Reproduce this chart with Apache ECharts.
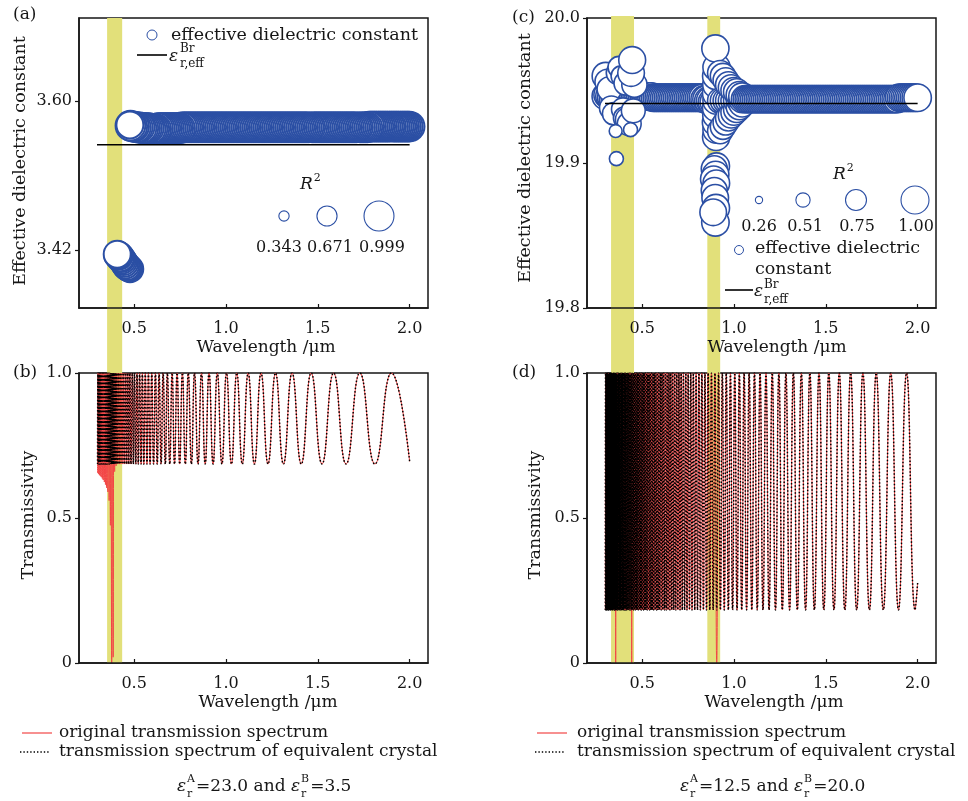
<!DOCTYPE html>
<html><head><meta charset="utf-8">
<script src="https://cdn.jsdelivr.net/npm/echarts@6/dist/echarts.min.js"></script>
<style>html,body{margin:0;padding:0;background:#fff}#c{width:968px;height:801px}</style>
</head><body><div id="c"></div><script>
// ---------- tick labels ----------
const xTicks = [0.5, 1.0, 1.5, 2.0];
const yTicksA = [3.42, 3.60];
const yTicksC = [19.8, 19.9, 20.0];
const yTicksT = [0, 0.5, 1.0];

// ---------- highlighted wavelength bands ----------
const bandsLeft = [[0.353, 0.435]];
const bandsRight = [[0.331, 0.456], [0.855, 0.925]];

// ---------- panel (a): effective dielectric constant ----------
const aBandLam = [0.48,0.49,0.50,0.51,0.52,0.53,0.54,0.55,0.56,0.57,
0.58,0.59,0.60,0.61,0.62,0.63,0.64,0.65,0.66,0.67,
0.68,0.69,0.70,0.71,0.72,0.73,0.74,0.75,0.76,0.77,
0.78,0.79,0.80,0.81,0.82,0.83,0.84,0.85,0.86,0.87,
0.88,0.89,0.90,0.91,0.92,0.93,0.94,0.95,0.96,0.97,
0.98,0.99,1.00,1.01,1.02,1.03,1.04,1.05,1.06,1.07,
1.08,1.09,1.10,1.11,1.12,1.13,1.14,1.15,1.16,1.17,
1.18,1.19,1.20,1.21,1.22,1.23,1.24,1.25,1.26,1.27,
1.28,1.29,1.30,1.31,1.32,1.33,1.34,1.35,1.36,1.37,
1.38,1.39,1.40,1.41,1.42,1.43,1.44,1.45,1.46,1.47,
1.48,1.49,1.50,1.51,1.52,1.53,1.54,1.55,1.56,1.57,
1.58,1.59,1.60,1.61,1.62,1.63,1.64,1.65,1.66,1.67,
1.68,1.69,1.70,1.71,1.72,1.73,1.74,1.75,1.76,1.77,
1.78,1.79,1.80,1.81,1.82,1.83,1.84,1.85,1.86,1.87,
1.88,1.89,1.90,1.91,1.92,1.93,1.94,1.95,1.96,1.97,
1.98,1.99,2.00];
const aBandEps = [3.570,3.569,3.569,3.568,3.568,3.568,3.567,3.567,3.567,3.567,
3.567,3.566,3.566,3.566,3.566,3.567,3.567,3.567,3.567,3.567,
3.567,3.567,3.567,3.567,3.567,3.567,3.567,3.567,3.568,3.568,
3.568,3.568,3.568,3.568,3.568,3.568,3.568,3.568,3.568,3.568,
3.568,3.568,3.568,3.568,3.568,3.568,3.568,3.568,3.568,3.568,
3.568,3.568,3.568,3.568,3.568,3.568,3.568,3.568,3.568,3.568,
3.568,3.568,3.568,3.568,3.568,3.568,3.568,3.568,3.568,3.568,
3.568,3.568,3.568,3.568,3.568,3.568,3.568,3.568,3.568,3.568,
3.568,3.568,3.568,3.568,3.568,3.568,3.568,3.568,3.568,3.568,
3.568,3.568,3.568,3.568,3.568,3.568,3.568,3.568,3.568,3.568,
3.568,3.568,3.568,3.568,3.568,3.568,3.568,3.568,3.568,3.568,
3.568,3.568,3.568,3.568,3.568,3.568,3.568,3.568,3.568,3.568,
3.568,3.568,3.568,3.568,3.568,3.568,3.568,3.568,3.568,3.568,
3.569,3.569,3.569,3.569,3.569,3.569,3.569,3.569,3.569,3.569,
3.569,3.569,3.569,3.569,3.569,3.569,3.569,3.569,3.569,3.569,
3.569,3.569,3.569];
const aBandR2 = [0.99,0.99,0.99,0.99,0.99,0.99,0.99,0.99,0.99,0.99,
0.99,0.99,0.99,0.99,0.99,0.99,0.99,0.99,0.99,0.99,
0.99,0.99,0.99,0.99,0.99,0.99,0.99,0.99,0.99,0.99,
0.99,0.99,0.99,0.99,0.99,0.99,0.99,0.99,0.99,0.99,
0.99,0.99,0.99,0.99,0.99,0.99,0.99,0.99,0.99,0.99,
0.99,0.99,0.99,0.99,0.99,0.99,0.99,0.99,0.99,0.99,
0.99,0.99,0.99,0.99,0.99,0.99,0.99,0.99,0.99,0.99,
0.99,0.99,0.99,0.99,0.99,0.99,0.99,0.99,0.99,0.99,
0.99,0.99,0.99,0.99,0.99,0.99,0.99,0.99,0.99,0.99,
0.99,0.99,0.99,0.99,0.99,0.99,0.99,0.99,0.98,0.99,
0.99,0.99,0.99,0.99,0.99,0.99,0.99,0.99,0.99,0.99,
0.99,0.99,0.99,0.99,0.99,0.99,0.99,0.99,0.99,0.99,
0.99,0.99,0.99,0.99,0.98,0.99,0.99,0.99,0.99,0.99,
0.99,0.99,0.99,0.99,0.99,0.99,0.99,0.99,0.99,0.99,
0.99,0.99,0.98,0.99,0.99,0.99,0.99,0.99,0.99,0.99,
0.99,0.99,0.99];
const aFirst = [0.477, 3.571, 0.90];
const aLowLam = [0.408,0.412,0.418,0.424,0.430,0.436,0.442,0.448,0.454,0.460,0.466,0.472,0.478];
const aLowEps = [3.415,3.414,3.413,3.411,3.410,3.408,3.406,3.404,3.402,3.400,3.399,3.398,3.397];
const aLowR2  = [0.90,0.92,0.92,0.92,0.91,0.90,0.90,0.90,0.90,0.90,0.89,0.88,0.88];
const effLineA = [[0.298, 3.547], [2.0, 3.547]];
const legendR2A = [0.343, 0.671, 0.999];

// ---------- panel (c) ----------
const cBand1Lam = [0.30,0.31,0.32,0.33,0.34,0.35,0.36,0.37,0.38,0.39,
0.40,0.41,0.42,0.43,0.44,0.45,0.46,0.47,0.48,0.49,
0.50,0.51,0.52,0.53,0.54,0.55,0.56,0.57,0.58,0.59,
0.60,0.61,0.62,0.63,0.64,0.65,0.66,0.67,0.68,0.69,
0.70,0.71,0.72,0.73,0.74,0.75,0.76,0.77,0.78,0.79,
0.80,0.81,0.82,0.83,0.84,0.85,0.86,0.87,0.88,0.89];
const cBand1Eps = [19.946,19.947,19.946,19.945,19.944,19.944,19.943,19.944,19.945,19.944,
19.944,19.945,19.944,19.943,19.944,19.946,19.945,19.946,19.946,19.946,
19.946,19.946,19.946,19.946,19.946,19.946,19.945,19.945,19.945,19.945,
19.945,19.945,19.945,19.945,19.945,19.945,19.945,19.945,19.945,19.945,
19.945,19.945,19.945,19.945,19.945,19.945,19.945,19.945,19.945,19.945,
19.945,19.945,19.945,19.945,19.944,19.944,19.943,19.943,19.942,19.942];
const cBand1R2 = [0.95,0.95,0.95,0.95,0.95,0.95,0.95,0.95,0.95,0.95,
0.95,0.95,0.95,0.95,0.95,0.96,0.97,0.97,0.97,0.97,
0.97,0.97,0.97,0.97,0.97,0.97,0.97,0.97,0.97,0.97,
0.97,0.97,0.97,0.97,0.97,0.97,0.97,0.97,0.97,0.97,
0.97,0.97,0.97,0.97,0.97,0.97,0.97,0.97,0.97,0.97,
0.97,0.97,0.97,0.97,0.97,0.97,0.97,0.97,0.97,0.97];
const cLeftOut = [[0.302,19.960,0.97],[0.312,19.956,0.90],[0.322,19.951,0.88],[0.333,19.938,0.85],[0.345,19.934,0.80],
[0.366,19.962,0.80],[0.374,19.966,0.78],[0.386,19.960,0.72],[0.396,19.937,0.82],[0.405,19.931,0.80],
[0.412,19.955,0.85],[0.422,19.930,0.88],[0.430,19.927,0.85],[0.452,19.936,0.85],[0.458,19.954,0.90],
[0.440,19.962,0.95],[0.446,19.971,0.96],[0.356,19.922,0.46],[0.437,19.923,0.50],[0.360,19.903,0.50]];
const cLowStack = [[0.905,19.898,0.93],[0.893,19.896,0.93],[0.900,19.892,0.95],[0.889,19.889,0.93],[0.904,19.886,0.95],
[0.893,19.881,0.93],[0.898,19.876,0.95],[0.902,19.869,0.97],[0.899,19.859,0.98],[0.887,19.866,0.95]];
const cUpStack = [[0.903,19.918,0.97],[0.905,19.923,0.97],[0.902,19.928,0.97],[0.904,19.933,0.97],[0.903,19.938,0.97],
[0.905,19.943,0.97],[0.903,19.948,0.97],[0.904,19.954,0.97],[0.903,19.960,0.97],[0.905,19.966,0.97],[0.899,19.979,0.97]];
const cSpread = [[0.925,19.922,0.90],[0.925,19.943,0.90],[0.925,19.962,0.90],[0.940,19.925,0.90],[0.940,19.943,0.90],[0.940,19.960,0.90],
[0.955,19.928,0.90],[0.955,19.943,0.90],[0.955,19.957,0.90],[0.970,19.931,0.92],[0.970,19.943,0.92],[0.970,19.954,0.92],
[0.985,19.933,0.92],[0.985,19.943,0.92],[0.985,19.952,0.92],[1.000,19.935,0.93],[1.000,19.943,0.93],[1.000,19.950,0.93],
[1.015,19.937,0.94],[1.015,19.943,0.94],[1.015,19.949,0.94],[1.030,19.939,0.95],[1.030,19.944,0.95],[1.030,19.947,0.95],
[1.045,19.941,0.96],[1.045,19.944,0.96],[1.045,19.946,0.96]];
const cBand2Lam = [1.06,1.07,1.08,1.09,1.10,1.11,1.12,1.13,1.14,1.15,
1.16,1.17,1.18,1.19,1.20,1.21,1.22,1.23,1.24,1.25,
1.26,1.27,1.28,1.29,1.30,1.31,1.32,1.33,1.34,1.35,
1.36,1.37,1.38,1.39,1.40,1.41,1.42,1.43,1.44,1.45,
1.46,1.47,1.48,1.49,1.50,1.51,1.52,1.53,1.54,1.55,
1.56,1.57,1.58,1.59,1.60,1.61,1.62,1.63,1.64,1.65,
1.66,1.67,1.68,1.69,1.70,1.71,1.72,1.73,1.74,1.75,
1.76,1.77,1.78,1.79,1.80,1.81,1.82,1.83,1.84,1.85,
1.86,1.87,1.88,1.89,1.90,1.91,1.92,1.93,1.94,1.95,
1.96,1.97,1.98,1.99,2.00];
const cBand2Eps = [19.944,19.944,19.944,19.944,19.944,19.944,19.944,19.944,19.944,19.944,
19.944,19.944,19.944,19.944,19.944,19.944,19.944,19.944,19.944,19.944,
19.944,19.944,19.944,19.944,19.944,19.944,19.944,19.944,19.944,19.944,
19.944,19.944,19.944,19.944,19.944,19.944,19.944,19.944,19.944,19.944,
19.944,19.944,19.944,19.944,19.944,19.944,19.944,19.944,19.944,19.944,
19.944,19.944,19.944,19.944,19.944,19.944,19.944,19.944,19.944,19.944,
19.944,19.944,19.944,19.944,19.944,19.944,19.944,19.944,19.944,19.944,
19.944,19.944,19.944,19.944,19.944,19.944,19.944,19.944,19.944,19.944,
19.944,19.944,19.944,19.944,19.945,19.945,19.945,19.945,19.945,19.945,
19.945,19.945,19.945,19.945,19.945];
const cBand2R2 = [0.97,0.97,0.97,0.97,0.97,0.97,0.97,0.97,0.97,0.97,
0.97,0.97,0.97,0.97,0.97,0.97,0.97,0.97,0.97,0.97,
0.97,0.97,0.97,0.97,0.97,0.97,0.97,0.97,0.97,0.97,
0.97,0.97,0.97,0.97,0.97,0.97,0.97,0.97,0.97,0.97,
0.97,0.97,0.97,0.97,0.97,0.97,0.97,0.97,0.97,0.97,
0.97,0.97,0.97,0.97,0.97,0.97,0.97,0.97,0.97,0.97,
0.97,0.97,0.97,0.97,0.97,0.97,0.97,0.97,0.97,0.97,
0.97,0.97,0.97,0.97,0.97,0.97,0.97,0.97,0.97,0.97,
0.97,0.97,0.97,0.97,0.98,0.98,0.98,0.98,0.98,0.98,
0.98,0.98,0.98,0.98,0.98];
const effLineC = [[0.298, 19.941], [2.0, 19.941]];
const legendR2C = [0.26, 0.51, 0.75, 1.00];

// ---------- panel (b): transmission spectra, extrema wavelengths ----------
const peaksB = [0.303,0.308,0.313,0.318,0.324,0.329,0.335,0.341,0.347,0.354,0.360,0.367,0.374,0.382,0.390,0.398,0.406,0.415,0.424,0.434,0.444,0.455,0.466,0.477,0.490,0.502,0.516,0.530,0.545,0.561,0.578,0.596,0.616,0.636,0.658,0.681,0.707,0.734,0.763,0.795,0.829,0.867,0.908,0.953,1.003,1.059,1.121,1.191,1.270,1.360,1.464,1.586,1.729,1.901];
const troughsB = [0.301,0.306,0.311,0.316,0.321,0.327,0.332,0.338,0.344,0.350,0.357,0.364,0.371,0.378,0.386,0.394,0.402,0.411,0.420,0.429,0.439,0.449,0.460,0.471,0.483,0.496,0.509,0.523,0.538,0.553,0.570,0.587,0.606,0.626,0.647,0.670,0.694,0.720,0.748,0.779,0.812,0.848,0.887,0.930,0.978,1.030,1.089,1.155,1.229,1.313,1.410,1.523,1.654,1.811];
const peakTB = 1.0, troughTB = 0.686;
const endB = [2.0, 0.695];
const redDipsB = [[0.301,0.655],[0.306,0.652],[0.311,0.648],[0.316,0.645],[0.321,0.641],[0.327,0.636],[0.332,0.631],[0.338,0.624],[0.344,0.615],[0.350,0.604],[0.357,0.590],[0.364,0.560],[0.371,0.475],[0.378,0.0],[0.386,0.02],[0.394,0.66],[0.402,0.68]];

// ---------- panel (d) ----------
const peaksD = [0.3009,0.3031,0.3053,0.3075,0.3098,0.3122,0.3145,0.3169,0.3193,0.3218,0.3243,0.3269,0.3294,0.3321,0.3347,0.3374,0.3402,0.3430,0.3458,0.3487,
0.3517,0.3547,0.3577,0.3608,0.3640,0.3672,0.3704,0.3738,0.3771,0.3806,0.3841,0.3877,0.3913,0.3950,0.3988,0.4027,0.4066,0.4106,0.4147,0.4188,
0.4231,0.4274,0.4319,0.4364,0.4410,0.4457,0.4506,0.4555,0.4605,0.4657,0.4709,0.4763,0.4818,0.4875,0.4932,0.4991,0.5052,0.5114,0.5177,0.5242,
0.5309,0.5378,0.5448,0.5520,0.5594,0.5671,0.5749,0.5829,0.5912,0.5997,0.6085,0.6175,0.6268,0.6363,0.6462,0.6564,0.6669,0.6777,0.6889,0.7005,
0.7125,0.7249,0.7377,0.7510,0.7648,0.7791,0.7940,0.8094,0.8254,0.8421,0.8595,0.8776,0.8965,0.9162,0.9368,0.9583,0.9809,1.0045,1.0293,1.0554,
1.0828,1.1117,1.1422,1.1744,1.2085,1.2446,1.2829,1.3236,1.3671,1.4134,1.4631,1.5163,1.5736,1.6353,1.7021,1.7746,1.8536,1.9399];
const troughsD = [0.2998,0.3020,0.3042,0.3064,0.3087,0.3110,0.3133,0.3157,0.3181,0.3206,0.3231,0.3256,0.3281,0.3307,0.3334,0.3361,0.3388,0.3416,0.3444,0.3473,
0.3502,0.3532,0.3562,0.3593,0.3624,0.3656,0.3688,0.3721,0.3754,0.3789,0.3823,0.3859,0.3895,0.3932,0.3969,0.4007,0.4046,0.4086,0.4126,0.4168,
0.4210,0.4253,0.4296,0.4341,0.4387,0.4434,0.4481,0.4530,0.4580,0.4631,0.4683,0.4736,0.4790,0.4846,0.4903,0.4962,0.5021,0.5083,0.5145,0.5210,
0.5276,0.5343,0.5413,0.5484,0.5557,0.5632,0.5709,0.5789,0.5870,0.5954,0.6040,0.6129,0.6221,0.6315,0.6412,0.6513,0.6616,0.6723,0.6833,0.6947,
0.7065,0.7187,0.7313,0.7443,0.7579,0.7719,0.7865,0.8016,0.8173,0.8337,0.8507,0.8684,0.8869,0.9062,0.9264,0.9474,0.9695,0.9926,1.0168,1.0422,
1.0689,1.0971,1.1268,1.1581,1.1912,1.2262,1.2634,1.3029,1.3450,1.3899,1.4378,1.4892,1.5444,1.6038,1.6681,1.7376,1.8132,1.8957,1.9861];
const peakTD = 1.0, troughTD = 0.183;
const endD = [2.0, 0.276];
const redDipsD = [[0.3562,0.0],[0.4434,0.0],[0.9062,0.0]];

// ---------- styles ----------
const FONT = '"DejaVu Serif", "Liberation Serif", serif';
const BLUE = '#2b4fa4';
const RED = '#f24646';
const YEL = '#e2e07a';
const INK = '#161616';
const SIZE_A = 30, SIZE_C = 28;

// ---------- build series data ----------
const dataA = [];
for (let i = aBandLam.length - 1; i >= 0; i--) dataA.push([aBandLam[i], aBandEps[i], aBandR2[i]]);
dataA.push(aFirst);
for (let i = aLowLam.length - 1; i >= 0; i--) dataA.push([aLowLam[i], aLowEps[i], aLowR2[i]]);

const dataC = [];
cBand1Lam.forEach((l, i) => dataC.push([l, cBand1Eps[i], cBand1R2[i]]));
cLeftOut.forEach(p => dataC.push(p));
cLowStack.forEach(p => dataC.push(p));
cUpStack.forEach(p => dataC.push(p));
cSpread.forEach(p => dataC.push(p));
cBand2Lam.forEach((l, i) => dataC.push([l, cBand2Eps[i], cBand2R2[i]]));

function spectrum(peaks, troughs, pT, tT, end, dips) {
  const m = new Map((dips || []).map(d => [d[0], d[1]]));
  const pts = peaks.map(l => [l, pT]).concat(troughs.map(l => [l, m.has(l) ? m.get(l) : tT]));
  pts.push(end);
  pts.sort((a, b) => a[0] - b[0]);
  return pts;
}
const blackB = spectrum(peaksB, troughsB, peakTB, troughTB, endB, null);
const redB = spectrum(peaksB, troughsB, peakTB, troughTB, endB, redDipsB);
const blackD = spectrum(peaksD, troughsD, peakTD, troughTD, endD, null);
const redD = spectrum(peaksD, troughsD, peakTD, troughTD, endD, redDipsD);

// ---------- axes ----------
const axLine = { show: true, lineStyle: { color: INK, width: 1.5 } };
function xAx(gi) {
  return { type: 'value', gridIndex: gi, min: 0.2, max: 2.1, z: 10, axisLine: axLine,
    axisTick: { show: true, inside: true, length: 4, customValues: xTicks, lineStyle: { color: INK, width: 1.2 } },
    axisLabel: { customValues: xTicks, formatter: v => v.toFixed(1), margin: 13, fontFamily: FONT, fontSize: 16, color: INK },
    splitLine: { show: false } };
}
function yAx(gi, min, max, ticks, fmt) {
  return { type: 'value', gridIndex: gi, min: min, max: max, z: 10, axisLine: axLine,
    axisTick: { show: true, inside: false, length: 4, customValues: ticks, lineStyle: { color: INK, width: 1.2 } },
    axisLabel: { customValues: ticks, formatter: fmt, margin: 7, fontFamily: FONT, fontSize: 16, color: INK },
    splitLine: { show: false } };
}
const fmtT = v => (v === 0 ? '0' : v.toFixed(1));

const chart = echarts.init(document.getElementById('c'), null, { renderer: 'canvas' });
const gridBase = { show: true, borderColor: INK, borderWidth: 1.5, backgroundColor: 'transparent' };
chart.setOption({
  animation: false,
  backgroundColor: '#fff',
  grid: [
    Object.assign({ left: 79, top: 18, width: 349, height: 290 }, gridBase),
    Object.assign({ left: 79, top: 373, width: 349, height: 290 }, gridBase),
    Object.assign({ left: 587, top: 18, width: 349, height: 290 }, gridBase),
    Object.assign({ left: 587, top: 373, width: 349, height: 290 }, gridBase)
  ],
  xAxis: [xAx(0), xAx(1), xAx(2), xAx(3)],
  yAxis: [
    yAx(0, 3.35, 3.70, yTicksA, v => v.toFixed(2)),
    yAx(1, 0, 1, yTicksT, fmtT),
    yAx(2, 19.8, 20.0, yTicksC, v => v.toFixed(1)),
    yAx(3, 0, 1, yTicksT, fmtT)
  ],
  series: [
    { type: 'scatter', xAxisIndex: 0, yAxisIndex: 0, data: dataA, symbol: 'circle', silent: true, z: 3,
      symbolSize: v => v[2] * SIZE_A, itemStyle: { color: '#fff', borderColor: BLUE, borderWidth: 2, opacity: 1 } },
    { type: 'line', xAxisIndex: 0, yAxisIndex: 0, data: effLineA, showSymbol: false, silent: true, z: 4,
      lineStyle: { color: '#000', width: 1.6 } },
    { type: 'line', xAxisIndex: 1, yAxisIndex: 1, data: redB, smooth: 0.5, showSymbol: false, silent: true, z: 3,
      lineStyle: { color: RED, width: 1 } },
    { type: 'line', xAxisIndex: 1, yAxisIndex: 1, data: blackB, smooth: 0.5, showSymbol: false, silent: true, z: 4,
      lineStyle: { color: '#000', width: 1.5, type: [1.5, 2] } },
    { type: 'scatter', xAxisIndex: 2, yAxisIndex: 2, data: dataC, symbol: 'circle', silent: true, z: 3,
      symbolSize: v => v[2] * SIZE_C, itemStyle: { color: '#fff', borderColor: BLUE, borderWidth: 1.6, opacity: 1 } },
    { type: 'line', xAxisIndex: 2, yAxisIndex: 2, data: effLineC, showSymbol: false, silent: true, z: 4,
      lineStyle: { color: '#000', width: 1.6 } },
    { type: 'line', xAxisIndex: 3, yAxisIndex: 3, data: redD, smooth: 0.5, showSymbol: false, silent: true, z: 3,
      lineStyle: { color: RED, width: 1 } },
    { type: 'line', xAxisIndex: 3, yAxisIndex: 3, data: blackD, smooth: 0.5, showSymbol: false, silent: true, z: 4,
      lineStyle: { color: '#000', width: 1.5, type: [1.5, 2] } }
  ]
});

// ---------- decorations (text, legends, bands) ----------
const mctx = document.createElement('canvas').getContext('2d');
function fnt(size, italic) { return (italic ? 'italic ' : '') + size + 'px ' + FONT; }
function tw(s, size, italic) { mctx.font = fnt(size, italic); return mctx.measureText(s).width; }
function T(x, y, s, o) {
  o = o || {};
  const al = o.align || 'left';
  return { type: 'text', x: x, y: y, z: 100, silent: true, rotation: o.rot || 0,
    style: { text: s, font: fnt(o.size || 17, o.italic), fill: o.color || INK,
      align: al, verticalAlign: 'middle', textAlign: al, textVerticalAlign: 'middle' } };
}
function L(x1, y1, x2, y2, color, w, dash) {
  return { type: 'line', z: 100, silent: true, shape: { x1: x1, y1: y1, x2: x2, y2: y2 },
    style: { stroke: color, lineWidth: w, lineDash: dash || null } };
}
function C(cx, cy, r, w) {
  return { type: 'circle', z: 100, silent: true, shape: { cx: cx, cy: cy, r: r },
    style: { fill: '#fff', stroke: BLUE, lineWidth: w || 1.1 } };
}
// epsilon with stacked super/subscript
function epsStack(els, x, y, sup, sub, size, ssize) {
  els.push(T(x, y, 'ε', { size: size, italic: true }));
  x += tw('ε', size, true) + 1;
  els.push(T(x, y - size * 0.45, sup, { size: ssize }));
  els.push(T(x, y + size * 0.42, sub, { size: ssize }));
  return x + Math.max(tw(sup, ssize), tw(sub, ssize)) + 1;
}
function equation(els, x, y, a, b) {
  x = epsStack(els, x, y, 'A', 'r', 17, 11);
  const s1 = '=' + a + ' and ';
  els.push(T(x, y, s1, { size: 17 })); x += tw(s1, 17);
  x = epsStack(els, x, y, 'B', 'r', 17, 11);
  els.push(T(x, y, '=' + b, { size: 17 }));
}

const g = [];
// bands (continuous over both stacked panels)
function bands(list, axisIdx, yTop, yBot) {
  list.forEach(b => {
    const x1 = chart.convertToPixel({ xAxisIndex: axisIdx }, b[0]);
    const x2 = chart.convertToPixel({ xAxisIndex: axisIdx }, b[1]);
    g.push({ type: 'rect', z: 1, silent: true, shape: { x: x1, y: yTop, width: x2 - x1, height: yBot - yTop }, style: { fill: YEL } });
  });
}
bands(bandsLeft, 0, 18, 663);
bands(bandsRight, 2, 16, 663);

// panel labels
g.push(T(13, 15, '(a)'), T(13, 373, '(b)'), T(512, 18, '(c)'), T(512, 373, '(d)'));
// axis titles
g.push(T(20, 161, 'Effective dielectric constant', { align: 'center', rot: Math.PI / 2, size: 17.5 }));
g.push(T(525, 158, 'Effective dielectric constant', { align: 'center', rot: Math.PI / 2, size: 17.5 }));
g.push(T(28, 515, 'Transmissivity', { align: 'center', rot: Math.PI / 2, size: 17.5 }));
g.push(T(535, 515, 'Transmissivity', { align: 'center', rot: Math.PI / 2, size: 17.5 }));
g.push(T(266, 348, 'Wavelength /μm', { align: 'center' }), T(777, 348, 'Wavelength /μm', { align: 'center' }));
g.push(T(268, 703, 'Wavelength /μm', { align: 'center' }), T(774, 703, 'Wavelength /μm', { align: 'center' }));

// (a) legend
g.push(C(152, 35, 5, 1));
g.push(T(171, 35, 'effective dielectric constant', { size: 17.5 }));
g.push(L(137, 55, 167, 55, '#000', 1.6));
g.push(T(169, 57, 'ε', { italic: true, size: 17 }));
g.push(T(180, 49, 'Br', { size: 12 }), T(180, 64, 'r,eff', { size: 12 }));
// (a) R2 size legend
g.push(T(300, 185, 'R', { italic: true, size: 17 }));
g.push(T(300 + tw('R', 17, true) + 1, 178, '2', { size: 11 }));
const aLegX = [284, 327, 379], aLabX = [279, 330, 382];
legendR2A.forEach((r, i) => {
  g.push(C(aLegX[i], 216, r * SIZE_A / 2, 1.1));
  g.push(T(aLabX[i], 248, r.toFixed(3), { align: 'center', size: 16 }));
});

// (c) R2 size legend and series legend
g.push(T(833, 175, 'R', { italic: true, size: 17 }));
g.push(T(833 + tw('R', 17, true) + 1, 168, '2', { size: 11 }));
const cLegX = [759, 803, 856, 915], cLabX = [759, 805, 857, 916];
legendR2C.forEach((r, i) => {
  g.push(C(cLegX[i], 200, r * SIZE_C / 2, 1.1));
  g.push(T(cLabX[i], 227, r.toFixed(2), { align: 'center', size: 16 }));
});
g.push(C(739, 250, 4.5, 1));
g.push(T(755, 248, 'effective dielectric', { size: 17.5 }), T(755, 269, 'constant', { size: 17.5 }));
g.push(L(725, 290, 753, 290, '#000', 1.6));
g.push(T(754, 292, 'ε', { italic: true, size: 17 }));
g.push(T(764, 285, 'Br', { size: 12 }), T(764, 300, 'r,eff', { size: 12 }));

// bottom legends
[[22, 59], [537, 577]].forEach(p => {
  g.push(L(p[0], 733, p[0] + 30, 733, RED, 1.2));
  g.push(T(p[1], 733, 'original transmission spectrum'));
  g.push(L(p[0] - 2, 752, p[0] + 28, 752, '#000', 1.4, [1.4, 2]));
  g.push(T(p[1], 752, 'transmission spectrum of equivalent crystal'));
});
equation(g, 177, 787, '23.0', '3.5');
equation(g, 680, 787, '12.5', '20.0');

chart.setOption({ graphic: { elements: g } });
</script></body></html>
